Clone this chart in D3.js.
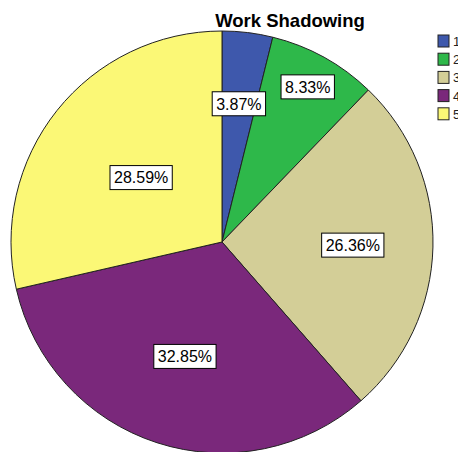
<!DOCTYPE html>
<html><head><meta charset="utf-8">
<script src="https://cdn.jsdelivr.net/npm/d3@7"></script>
<style>html,body{margin:0;padding:0;background:#fff;overflow:hidden}</style>
</head><body>
<script>
const title = "Work Shadowing";
const categories = ["1", "2", "3", "4", "5"];
const percents = [3.87, 8.33, 26.36, 32.85, 28.59];
const colors = ["#3E58AC", "#2EB84A", "#D3CE97", "#7A287B", "#FBF876"];

const W = 458, H = 452;
const cx = 222, cy = 242, R = 211;
const labelR = [0.66, 0.84, 0.62, 0.57, 0.49];

const svg = d3.select("body").append("svg").attr("width", W).attr("height", H)
  .style("font-family", "'Liberation Sans', Arial, sans-serif");

const data = categories.map((c, i) => ({cat: c, value: percents[i], color: colors[i], lr: labelR[i]}));
const pie = d3.pie().sort(null).value(d => d.value);
const arcs = pie(data);
const arc = d3.arc().innerRadius(0).outerRadius(R);

const g = svg.append("g").attr("transform", `translate(${cx},${cy})`);
g.selectAll("path").data(arcs).join("path")
  .attr("d", arc).attr("fill", d => d.data.color)
  .attr("stroke", "#222").attr("stroke-width", 1).attr("stroke-linejoin", "round");

const fmt = v => v.toFixed(2) + "%";
const lab = g.selectAll("g.lab").data(arcs).join("g").attr("class", "lab")
  .attr("transform", d => {
    const a = (d.startAngle + d.endAngle) / 2;
    const r = R * d.data.lr;
    return `translate(${r * Math.sin(a)},${-r * Math.cos(a)})`;
  });
lab.each(function(d) {
  const s = d3.select(this);
  const t = s.append("text").attr("text-anchor", "middle").attr("dy", "0.36em")
    .attr("font-size", 16).attr("fill", "#000").text(fmt(d.data.value));
  const bb = t.node().getBBox();
  s.insert("rect", "text").attr("x", bb.x - 4).attr("y", -12).attr("width", bb.width + 8).attr("height", 24)
    .attr("fill", "#fff").attr("stroke", "#000").attr("stroke-width", 1);
});

svg.append("text").attr("x", 290).attr("y", 27).attr("text-anchor", "middle")
  .attr("font-size", 18.5).attr("font-weight", "bold").attr("fill", "#000").text(title);

const leg = svg.append("g");
const li = leg.selectAll("g").data(data).join("g")
  .attr("transform", (d, i) => `translate(438,${35 + i * 18.2})`);
li.append("rect").attr("width", 11).attr("height", 12).attr("fill", d => d.color)
  .attr("stroke", "#222").attr("stroke-width", 1);
li.append("text").attr("x", 15).attr("y", 11).attr("font-size", 13).attr("fill", "#222").text(d => d.cat);
</script>
</body></html>
